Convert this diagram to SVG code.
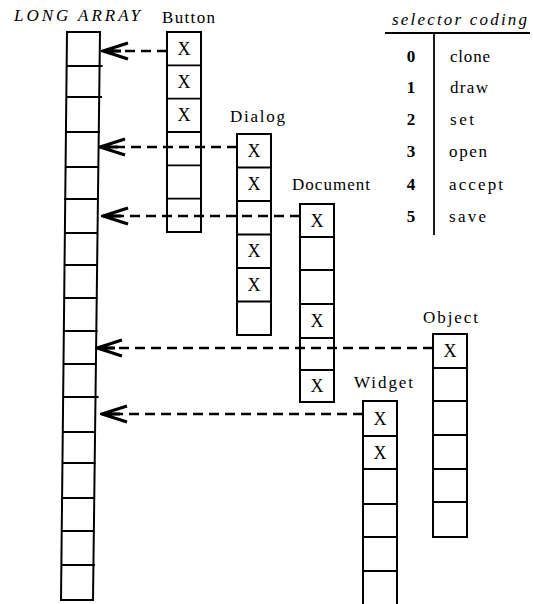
<svg xmlns="http://www.w3.org/2000/svg" width="533" height="604" viewBox="0 0 533 604" font-family="'Liberation Serif', 'DejaVu Serif', serif">
<style>
.box{fill:none;stroke:#000;stroke-width:2}
.div{stroke:#000;stroke-width:1.8}
text{font-family:'Liberation Serif','DejaVu Serif',serif;font-size:17px;fill:#000}
.x{text-anchor:middle;font-size:18px}
.it{font-style:italic}
.num{font-weight:bold;text-anchor:middle}
.conn{stroke:#000;stroke-width:2.6;stroke-dasharray:10 6;fill:none;marker-end:url(#ah)}
</style>
<defs>
<marker id="ah" viewBox="0 0 28 20" refX="26" refY="10" markerWidth="28" markerHeight="20" markerUnits="userSpaceOnUse" orient="auto">
<path d="M1,2 L26,10 L1,18 M8,10 L26,10" fill="none" stroke="#000" stroke-width="3.2" stroke-linejoin="miter"/>
</marker>
</defs>
<rect width="533" height="604" fill="#fff"/>

<g id="long-array">
<text class="it" x="14" y="21" textLength="126" lengthAdjust="spacing">LONG ARRAY</text>
<polygon class="box" points="67,32 100,32 93,600 61,600"/>
<line class="div" x1="66.6" y1="66" x2="102.5" y2="66"/>
<line class="div" x1="66.3" y1="97" x2="102" y2="97"/>
<line class="div" x1="65.9" y1="132" x2="99.8" y2="132"/>
<line class="div" x1="65.6" y1="167" x2="99" y2="167"/>
<line class="div" x1="64" y1="199" x2="98.5" y2="199"/>
<line class="div" x1="64.9" y1="233" x2="97.5" y2="233"/>
<line class="div" x1="64.5" y1="265" x2="97.1" y2="265"/>
<line class="div" x1="64.2" y1="298" x2="97.5" y2="298"/>
<line class="div" x1="63.8" y1="331" x2="97.5" y2="331"/>
<line class="div" x1="63.5" y1="364" x2="96" y2="364"/>
<line class="div" x1="63.1" y1="397" x2="98.5" y2="397"/>
<line class="div" x1="62" y1="432" x2="95.1" y2="432"/>
<line class="div" x1="62.4" y1="463" x2="95.5" y2="463"/>
<line class="div" x1="61.5" y1="498" x2="94.3" y2="498"/>
<line class="div" x1="61" y1="531" x2="93.9" y2="531"/>
<line class="div" x1="61.4" y1="565" x2="95" y2="565"/>
</g>

<g id="button">
<text x="162" y="23" textLength="53" lengthAdjust="spacing">Button</text>
<rect class="box" x="167" y="32" width="34" height="200"/>
<line class="div" x1="167" y1="65.3" x2="201" y2="65.3"/>
<line class="div" x1="167" y1="98.7" x2="201" y2="98.7"/>
<line class="div" x1="167" y1="132" x2="201" y2="132"/>
<line class="div" x1="167" y1="165.3" x2="201" y2="165.3"/>
<line class="div" x1="167" y1="198.7" x2="201" y2="198.7"/>
<text class="x" x="184" y="54.7">X</text>
<text class="x" x="184" y="88">X</text>
<text class="x" x="184" y="121.3">X</text>
</g>

<g id="dialog">
<text x="230" y="122" textLength="55" lengthAdjust="spacing">Dialog</text>
<rect class="box" x="237" y="134" width="34" height="201"/>
<line class="div" x1="237" y1="167.5" x2="271" y2="167.5"/>
<line class="div" x1="237" y1="201" x2="271" y2="201"/>
<line class="div" x1="237" y1="234.5" x2="271" y2="234.5"/>
<line class="div" x1="237" y1="268" x2="271" y2="268"/>
<line class="div" x1="237" y1="301.5" x2="271" y2="301.5"/>
<text class="x" x="254" y="156.8">X</text>
<text class="x" x="254" y="190.3">X</text>
<text class="x" x="254" y="257.3">X</text>
<text class="x" x="254" y="290.8">X</text>
</g>

<g id="document">
<text x="292" y="190" textLength="78" lengthAdjust="spacing">Document</text>
<rect class="box" x="300" y="204" width="34" height="198"/>
<line class="div" x1="300" y1="237" x2="334" y2="237"/>
<line class="div" x1="300" y1="270" x2="334" y2="270"/>
<line class="div" x1="300" y1="304" x2="334" y2="304"/>
<line class="div" x1="300" y1="338" x2="334" y2="338"/>
<line class="div" x1="300" y1="370" x2="334" y2="370"/>
<text class="x" x="317" y="226.5">X</text>
<text class="x" x="317" y="327">X</text>
<text class="x" x="317" y="392">X</text>
</g>

<g id="object">
<text x="423" y="323" textLength="55" lengthAdjust="spacing">Object</text>
<rect class="box" x="433" y="334" width="34" height="203"/>
<line class="div" x1="433" y1="368" x2="467" y2="368"/>
<line class="div" x1="433" y1="401" x2="467" y2="401"/>
<line class="div" x1="433" y1="435" x2="467" y2="435"/>
<line class="div" x1="433" y1="469" x2="467" y2="469"/>
<line class="div" x1="433" y1="502" x2="467" y2="502"/>
<text class="x" x="450" y="357">X</text>
</g>

<g id="widget">
<text x="354" y="388" textLength="59" lengthAdjust="spacing">Widget</text>
<rect class="box" x="363" y="401" width="34" height="210"/>
<line class="div" x1="363" y1="436" x2="397" y2="436"/>
<line class="div" x1="363" y1="469" x2="397" y2="469"/>
<line class="div" x1="363" y1="504" x2="397" y2="504"/>
<line class="div" x1="363" y1="537" x2="397" y2="537"/>
<line class="div" x1="363" y1="571" x2="397" y2="571"/>
<text class="x" x="380" y="424.5">X</text>
<text class="x" x="380" y="458.5">X</text>
</g>

<g id="selector-coding">
<text class="it" x="392" y="25" textLength="135" lengthAdjust="spacing">selector coding</text>
<line class="div" x1="385" y1="33" x2="530" y2="33"/>
<line class="div" x1="434" y1="33" x2="434" y2="235"/>
<text class="num" x="411" y="62">0</text>
<text class="num" x="411" y="93">1</text>
<text class="num" x="411" y="125">2</text>
<text class="num" x="411" y="157">3</text>
<text class="num" x="411" y="190">4</text>
<text class="num" x="411" y="222">5</text>
<text x="450" y="62" textLength="40" lengthAdjust="spacing">clone</text>
<text x="450" y="93" textLength="38" lengthAdjust="spacing">draw</text>
<text x="450" y="125" textLength="24" lengthAdjust="spacing">set</text>
<text x="449" y="157" textLength="38" lengthAdjust="spacing">open</text>
<text x="449" y="190" textLength="54" lengthAdjust="spacing">accept</text>
<text x="449" y="222" textLength="37" lengthAdjust="spacing">save</text>
</g>

<g id="connectors">
<line class="conn" x1="167" y1="51" x2="103" y2="51"/>
<line class="conn" x1="237" y1="147" x2="100" y2="147"/>
<line class="conn" x1="300" y1="216" x2="103" y2="216"/>
<line class="conn" x1="433" y1="348" x2="97" y2="348"/>
<line class="conn" x1="363" y1="414" x2="102" y2="414"/>
</g>
</svg>
